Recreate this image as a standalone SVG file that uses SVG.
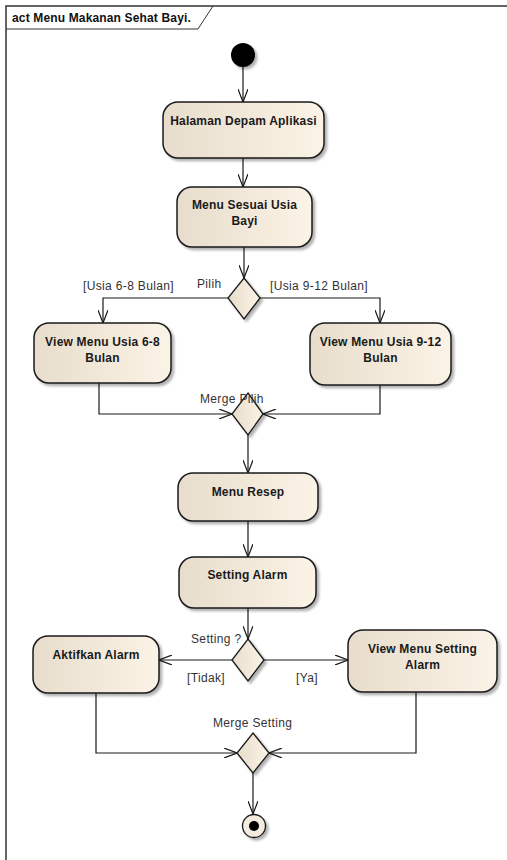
<svg xmlns="http://www.w3.org/2000/svg" width="507" height="860" viewBox="0 0 507 860">
<style>
.node{fill:url(#g);stroke:#1a1a1a;stroke-width:1.5;filter:url(#sh)}
.dec{fill:url(#g);stroke:#1a1a1a;stroke-width:1.3;filter:url(#sh)}
.t{font-family:"Liberation Sans",Arial,sans-serif;font-size:12px;letter-spacing:0.2px;font-weight:bold;fill:#1a1a1a;text-anchor:middle}
.l{font-family:"Liberation Sans",Arial,sans-serif;font-size:12px;letter-spacing:0.35px;fill:#333}
.c{fill:none;stroke:#1a1a1a;stroke-width:1.2;marker-end:url(#arr)}
</style>
<defs>
<linearGradient id="g" x1="0" y1="0" x2="1" y2="0">
<stop offset="0" stop-color="#e8ddcc"/>
<stop offset="1" stop-color="#fbf3e6"/>
</linearGradient>
<filter id="sh" x="-20%" y="-20%" width="150%" height="150%">
<feDropShadow dx="2.5" dy="2.5" stdDeviation="1" flood-color="#000" flood-opacity="0.3"/>
</filter>
<marker id="arr" viewBox="0 0 13 10" refX="13" refY="5" markerWidth="13" markerHeight="10" orient="auto" markerUnits="userSpaceOnUse">
<path d="M0,0 L13,5 L0,10" fill="none" stroke="#1a1a1a" stroke-width="1.2"/>
</marker>
</defs>
<rect width="507" height="860" fill="#fff"/>
<g id="frame">
<path d="M6,860 V6 H507" fill="none" stroke="#333" stroke-width="1.5"/>
<path d="M6,29 H198 L213,6" fill="none" stroke="#333" stroke-width="1"/>
<text x="12" y="22" font-family="'Liberation Sans',Arial,sans-serif" font-size="12" letter-spacing="0.15" font-weight="bold" fill="#111">act Menu Makanan Sehat Bayi.</text>
</g>
<g id="connectors">
<path class="c" d="M243,67 V102"/>
<path class="c" d="M243,158 V187"/>
<path class="c" d="M244,247 V278"/>
<path class="c" d="M229,298 H103 V323"/>
<path class="c" d="M260,298 H380 V323"/>
<path class="c" d="M99,383 V414 H232"/>
<path class="c" d="M380,385 V414 H263"/>
<path class="c" d="M248,435 V473"/>
<path class="c" d="M248,521 V557"/>
<path class="c" d="M248,608 V639"/>
<path class="c" d="M232,660 H159"/>
<path class="c" d="M264,660 H348"/>
<path class="c" d="M96,693 V753 H237"/>
<path class="c" d="M416,692 V753 H269"/>
<path class="c" d="M253,773 V814"/>
<text class="l" x="83" y="290">[Usia 6-8 Bulan]</text>
<text class="l" x="270" y="290">[Usia 9-12 Bulan]</text>
<text class="l" x="187" y="682">[Tidak]</text>
<text class="l" x="296" y="682">[Ya]</text>
</g>
<g id="start">
<circle cx="243" cy="55" r="12" fill="#000" filter="url(#sh)"/>
</g>
<g id="halaman">
<rect class="node" x="163" y="102" width="161" height="56" rx="15"/>
<text class="t" x="243.5" y="125">Halaman Depam Aplikasi</text>
</g>
<g id="menuSesuai">
<rect class="node" x="177" y="187" width="135" height="60" rx="15"/>
<text class="t" x="244.5" y="209">Menu Sesuai Usia</text>
<text class="t" x="244.5" y="225">Bayi</text>
</g>
<g id="pilih">
<path class="dec" d="M244,278 L260,298 L244,319 L228,298 Z"/>
<text class="l" x="197" y="288">Pilih</text>
</g>
<g id="view68">
<rect class="node" x="34" y="323" width="137" height="60" rx="15"/>
<text class="t" x="102.5" y="346">View Menu Usia 6-8</text>
<text class="t" x="102.5" y="362">Bulan</text>
</g>
<g id="view912">
<rect class="node" x="310" y="323" width="141" height="62" rx="15"/>
<text class="t" x="380.5" y="346">View Menu Usia 9-12</text>
<text class="t" x="380.5" y="362">Bulan</text>
</g>
<g id="mergePilih">
<path class="dec" d="M248,393 L263,414 L248,435 L232,414 Z"/>
<text class="l" x="200" y="403">Merge Pilih</text>
</g>
<g id="menuResep">
<rect class="node" x="178" y="473" width="140" height="48" rx="15"/>
<text class="t" x="248" y="496">Menu Resep</text>
</g>
<g id="settingAlarm">
<rect class="node" x="179" y="557" width="137" height="51" rx="15"/>
<text class="t" x="247.5" y="579">Setting Alarm</text>
</g>
<g id="settingDec">
<path class="dec" d="M248,639 L264,660 L248,681 L232,660 Z"/>
<text class="l" x="191" y="643">Setting ?</text>
</g>
<g id="aktifkan">
<rect class="node" x="33" y="636" width="126" height="57" rx="15"/>
<text class="t" x="96" y="659">Aktifkan Alarm</text>
</g>
<g id="viewSetting">
<rect class="node" x="348" y="630" width="149" height="62" rx="15"/>
<text class="t" x="422.5" y="653">View Menu Setting</text>
<text class="t" x="422.5" y="669">Alarm</text>
</g>
<g id="mergeSetting">
<path class="dec" d="M253,733 L269,753 L253,773 L237,753 Z"/>
<text class="l" x="213" y="727">Merge Setting</text>
</g>
<g id="end">
<circle cx="254" cy="826" r="11.5" fill="#f3ebdd" stroke="#1a1a1a" stroke-width="1.3" filter="url(#sh)"/>
<circle cx="254" cy="826" r="5" fill="#000"/>
</g>
</svg>
